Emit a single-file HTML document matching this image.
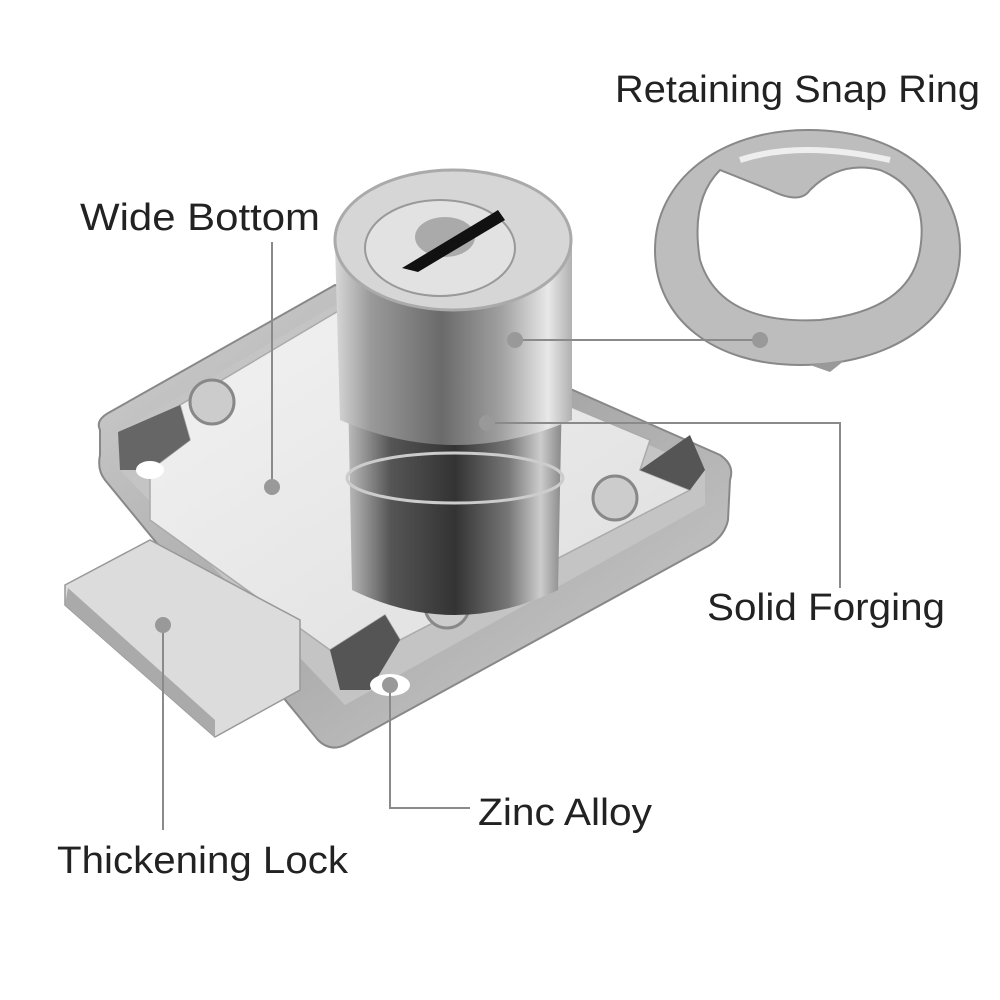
<!DOCTYPE html>
<html><head><style>
body{margin:0;background:#fff;}
svg{display:block}
text{font-family:"Liberation Sans",sans-serif;fill:#222;font-size:38px}
</style></head><body>
<svg width="1000" height="1000" viewBox="0 0 1000 1000">
<defs>
<linearGradient id="cyl" x1="0" x2="1" y1="0" y2="0">
<stop offset="0" stop-color="#d8d8d8"/><stop offset="0.15" stop-color="#9a9a9a"/><stop offset="0.45" stop-color="#6a6a6a"/><stop offset="0.7" stop-color="#a0a0a0"/><stop offset="0.9" stop-color="#e8e8e8"/><stop offset="1" stop-color="#b0b0b0"/>
</linearGradient>
<linearGradient id="cyl2" x1="0" x2="1" y1="0" y2="0">
<stop offset="0" stop-color="#bbb"/><stop offset="0.2" stop-color="#555"/><stop offset="0.5" stop-color="#333"/><stop offset="0.75" stop-color="#777"/><stop offset="0.9" stop-color="#ccc"/><stop offset="1" stop-color="#888"/>
</linearGradient>
<linearGradient id="plate" x1="0" x2="1" y1="0" y2="1">
<stop offset="0" stop-color="#f2f2f2"/><stop offset="1" stop-color="#dedede"/>
</linearGradient>
<linearGradient id="frame" x1="0" x2="1" y1="0" y2="1">
<stop offset="0" stop-color="#d0d0d0"/><stop offset="0.5" stop-color="#a8a8a8"/><stop offset="1" stop-color="#d0d0d0"/>
</linearGradient>
</defs>
<path d="M100,430 Q95,420 110,412 L335,285 L720,455 Q735,465 730,480 L728,520 Q725,535 710,545 L345,745 Q330,752 318,740 L105,480 Q97,470 100,455 Z" fill="url(#frame)" stroke="#888" stroke-width="2"/>
<path d="M118,432 L335,305 L705,470 L705,505 L345,705 L120,470 Z" fill="#c4c4c4"/>
<path d="M150,470 L190,440 L180,405 L340,310 L650,440 L640,470 L690,490 L400,640 L385,615 L330,650 L150,520 Z" fill="url(#plate)" stroke="#aaa" stroke-width="1.5"/>
<path d="M118,432 L180,405 L190,440 L150,470 L120,470 Z" fill="#666"/>
<path d="M640,470 L690,435 L705,470 L690,490 Z" fill="#555"/>
<path d="M330,650 L385,615 L400,640 L370,690 L340,690 Z" fill="#555"/>
<path d="M65,585 L150,540 L300,620 L300,690 L215,737 L65,605 Z" fill="#dcdcdc" stroke="#999" stroke-width="1.5"/>
<path d="M65,605 L215,737 L215,720 L68,588 Z" fill="#aaa"/>
<ellipse cx="150" cy="470" rx="14" ry="9" fill="#fff"/>
<ellipse cx="390" cy="685" rx="20" ry="11" fill="#fff"/>
<circle cx="212" cy="402" r="22" fill="#ccc" stroke="#888" stroke-width="3"/>
<circle cx="615" cy="498" r="22" fill="#ccc" stroke="#888" stroke-width="3"/>
<circle cx="447" cy="606" r="22" fill="#ccc" stroke="#888" stroke-width="3"/>
<path d="M348,390 L352,590 Q455,640 558,590 L562,390 Z" fill="url(#cyl2)"/>
<ellipse cx="455" cy="478" rx="108" ry="25" fill="none" stroke="#ccc" stroke-width="3"/>
<path d="M335,245 L340,420 Q455,470 572,420 L572,245 Z" fill="url(#cyl)"/>
<ellipse cx="453" cy="240" rx="118" ry="70" fill="#d6d6d6" stroke="#aaa" stroke-width="3"/>
<ellipse cx="440" cy="248" rx="75" ry="48" fill="#e2e2e2" stroke="#999" stroke-width="2"/>
<ellipse cx="445" cy="237" rx="30" ry="20" fill="#aaa"/>
<path d="M402,268 L412,262 L490,215 L498,210 L505,220 L418,272 Z" fill="#111"/>
<path fill-rule="evenodd" d="M808,130 C910,130 960,190 960,250 C960,320 890,365 800,365 C715,365 655,320 655,250 C655,180 720,130 808,130 Z M720,170 L770,190 Q800,205 810,190 Q840,160 880,170 Q930,190 920,250 Q910,310 820,320 Q720,325 700,260 Q690,200 720,170 Z" fill="#bdbdbd" stroke="#888" stroke-width="2"/>
<path d="M740,160 Q800,140 890,160" fill="none" stroke="#eee" stroke-width="6"/>
<path d="M810,365 L830,372 L845,360 Z" fill="#999"/>
<g stroke="#8a8a8a" stroke-width="2" fill="none">
<line x1="272" y1="242" x2="272" y2="487"/>
<line x1="515" y1="340" x2="760" y2="340"/>
<polyline points="487,423 840,423 840,588"/>
<polyline points="390,685 390,808 470,808"/>
<line x1="163" y1="625" x2="163" y2="830"/>
</g>
<g fill="#999">
<circle cx="272" cy="487" r="8"/><circle cx="515" cy="340" r="8"/><circle cx="760" cy="340" r="8"/>
<circle cx="487" cy="423" r="8"/><circle cx="390" cy="685" r="8"/><circle cx="163" cy="625" r="8"/>
</g>
<text x="615" y="102" textLength="365" lengthAdjust="spacingAndGlyphs">Retaining Snap Ring</text>
<text x="80" y="230" textLength="240" lengthAdjust="spacingAndGlyphs">Wide Bottom</text>
<text x="707" y="620" textLength="238" lengthAdjust="spacingAndGlyphs">Solid Forging</text>
<text x="478" y="825" textLength="174" lengthAdjust="spacingAndGlyphs">Zinc Alloy</text>
<text x="57" y="873" textLength="291" lengthAdjust="spacingAndGlyphs">Thickening Lock</text>
</svg>
</body></html>
